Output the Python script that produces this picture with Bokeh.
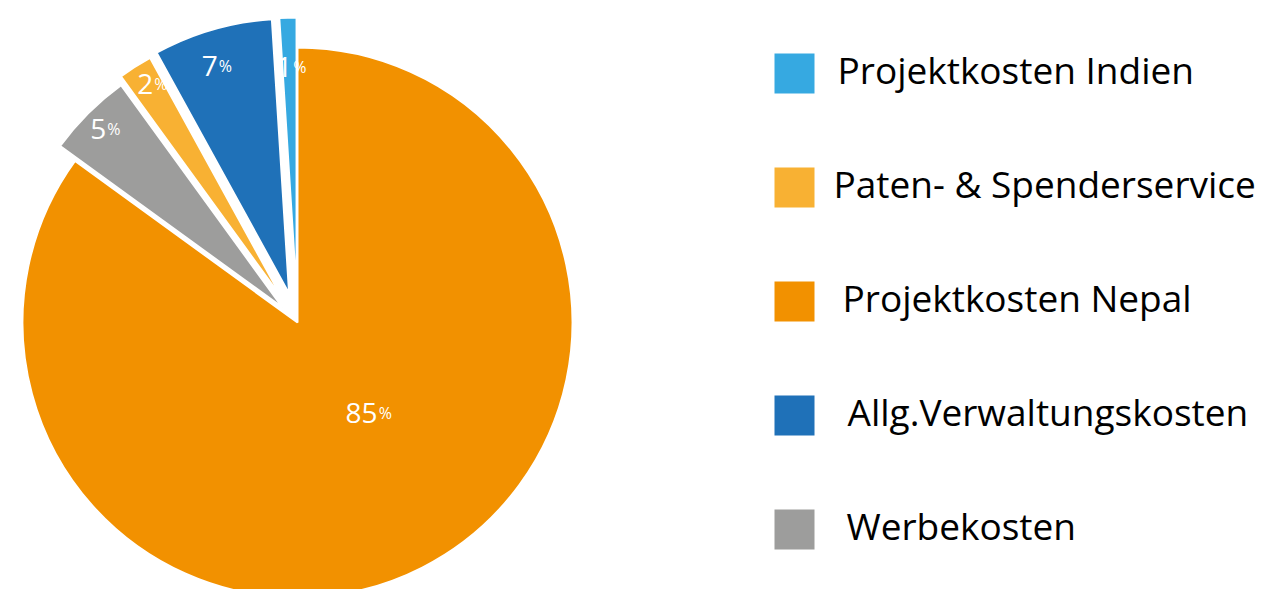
import math
from bokeh.plotting import figure
from bokeh.models import ColumnDataSource, Range1d
from bokeh.core.properties import value
from bokeh.embed import file_html
from bokeh.resources import INLINE

# ---- data ----
categories = ["Projektkosten Nepal", "Werbekosten", "Paten- & Spenderservice",
              "Allg.Verwaltungskosten", "Projektkosten Indien"]
shares = [85, 5, 2, 7, 1]
colors = ["#F29100", "#9D9D9C", "#F8B133", "#1F71B8", "#36A9E1"]
legend_order = ["Projektkosten Indien", "Paten- & Spenderservice", "Projektkosten Nepal",
                "Allg.Verwaltungskosten", "Werbekosten"]

# ---- style / layout ----
W, H = 1262, 589
CX, CY, R = 297, H - 322, 275
explode = [0, 21, 28, 30, 30]
label_r = [129, 264, 269, 258, 245]
label_shift = [11.4, 1.4, 0.0, 1.8, -0.6]
legend_x_sq = 794
legend_y_top = 73
legend_step = 114
legend_text_x = [837, 833, 842, 847, 846]
FONT = "Open Sans"
LBL_SIZE, PCT_SIZE, LEG_SIZE = 28, 16, 37

total = float(sum(shares))
starts, ends, xs, ys, lx, ly = [], [], [], [], [], []
cum = 0.0
for i, s in enumerate(shares):
    a0 = 90 - cum / total * 360.0
    a1 = 90 - (cum + s) / total * 360.0
    cum += s
    mid = math.radians((a0 + a1) / 2)
    xs.append(CX + explode[i] * math.cos(mid))
    ys.append(CY + explode[i] * math.sin(mid))
    starts.append(math.radians(a1))
    ends.append(math.radians(a0))
    la = mid + math.radians(label_shift[i])
    lx.append(CX + label_r[i] * math.cos(la))
    ly.append(CY + label_r[i] * math.sin(la))

src = ColumnDataSource(dict(x=xs, y=ys, start=starts, end=ends, color=colors,
                            cat=categories, num=[str(s) for s in shares],
                            pct=["%"] * len(shares), lx=lx, ly=ly))

p = figure(width=W, height=H, output_backend="svg", toolbar_location=None,
           x_range=Range1d(0, W), y_range=Range1d(0, H), min_border=0,
           outline_line_color=None, background_fill_color="white")
p.xaxis.visible = False
p.yaxis.visible = False
p.grid.visible = False

p.wedge(x="x", y="y", radius=R, start_angle="start", end_angle="end",
        fill_color="color", line_color="white", line_width=2, source=src)

p.text(x="lx", y="ly", text="num", text_color="white", text_font=value(FONT),
       text_font_size=f"{LBL_SIZE}px", text_align="right", text_baseline="alphabetic",
       y_offset=-11, source=src)
p.text(x="lx", y="ly", text="pct", text_color="white", text_font=value(FONT),
       text_font_size=f"{PCT_SIZE}px", text_align="left", text_baseline="alphabetic",
       x_offset=1, y_offset=-11, source=src)

# legend
color_of = dict(zip(categories, colors))
lg_y = [H - (legend_y_top + i * legend_step) for i in range(len(legend_order))]
lsrc = ColumnDataSource(dict(x=[legend_x_sq] * len(legend_order), y=lg_y,
                             tx=legend_text_x, ty=[y - 10 for y in lg_y],
                             color=[color_of[c] for c in legend_order], cat=legend_order))
p.rect(x="x", y="y", width=40, height=40, fill_color="color", line_color=None, source=lsrc)
p.text(x="tx", y="ty", text="cat", text_color="black", text_font=value(FONT),
       text_font_size=f"{LEG_SIZE}px", text_align="left", text_baseline="alphabetic",
       y_offset=-14, source=lsrc)

open("out.html", "w").write(file_html(p, INLINE))
